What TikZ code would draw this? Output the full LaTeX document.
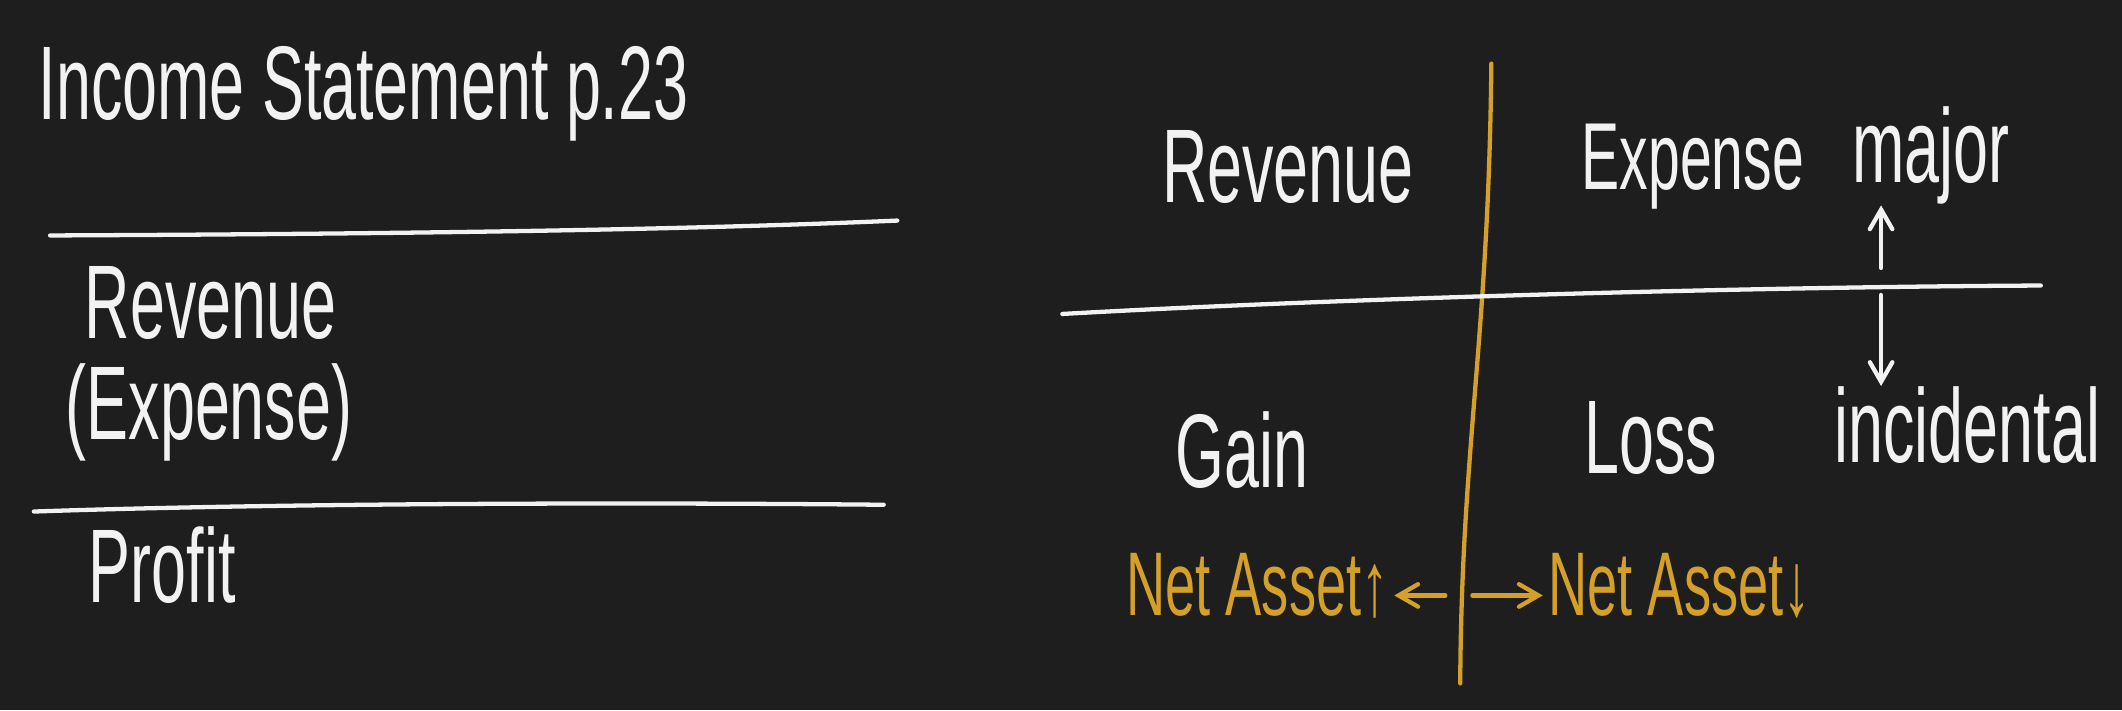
\documentclass[tikz,border=0pt]{standalone}
\usepackage{fontspec}
\setmainfont[FakeStretch=0.6]{Liberation Sans}
\usepackage{tikz}
\usetikzlibrary{arrows}
\definecolor{board}{RGB}{30,30,30}
\definecolor{chalk}{RGB}{242,242,242}
\definecolor{ochre}{RGB}{212,160,42}

\begin{document}
\begin{tikzpicture}[x=0.01cm,y=-0.01cm,>=angle 60,
hand/.style={text=chalk,font=\fontsize{22}{26}\selectfont,inner sep=0pt,anchor=base west},
handgold/.style={text=ochre,font=\fontsize{19}{23}\selectfont,inner sep=1pt,anchor=base west},
rule/.style={chalk,line width=0.9pt,line cap=round},
goldrule/.style={ochre,line width=0.9pt,line cap=round}]
% The board
\fill[board] (0,0) rectangle (1568,525);
\useasboundingbox (0,0) rectangle (1568,525);

% The statement on the left
\node[hand] (title) at (28,88) {Income Statement p.23};
\draw[rule] (37,174) .. controls (250,173) and (480,171) .. (663,163);
\node[hand] (revL) at (62,250) {Revenue};
\node[hand] (expL) at (48,325) {(Expense)};
\draw[rule] (25,378) .. controls (200,372) and (450,371) .. (653,373);
\node[hand] (profit) at (65,445) {Profit};

% The table on the right
\draw[goldrule] (1102,47) .. controls (1100,250) and (1080,330) .. (1079,505);
\draw[rule] (785,232) .. controls (1000,220) and (1300,212) .. (1508,211);
\node[hand] (revR) at (858,150) {Revenue};
\node[hand,font=\fontsize{20}{24}\selectfont] (expR) at (1168,140) {Expense};
\node[hand] (major) at (1368,135) {major};
\node[hand] (gain) at (868,360) {Gain};
\node[hand] (loss) at (1170,350) {Loss};
\node[hand] (incid) at (1355,342) {incidental};

% major / incidental
\coordinate (up) at (1390,198);
\coordinate (down) at (1390,218);
\draw[rule,->] (up) -- (up |- major.south);
\draw[rule,->] (down) -- (down |- incid.north);

% net assets
\node[handgold] (netUp) at (828,455) {Net Asset↑};
\node[handgold] (netDown) at (1140,455) {Net Asset↓};
\coordinate (left) at (1068,440);
\coordinate (right) at (1088,440);
\draw[goldrule,->] (left) -- (left -| netUp.east);
\draw[goldrule,->] (right) -- (right -| netDown.west);

\end{tikzpicture}
\end{document}
